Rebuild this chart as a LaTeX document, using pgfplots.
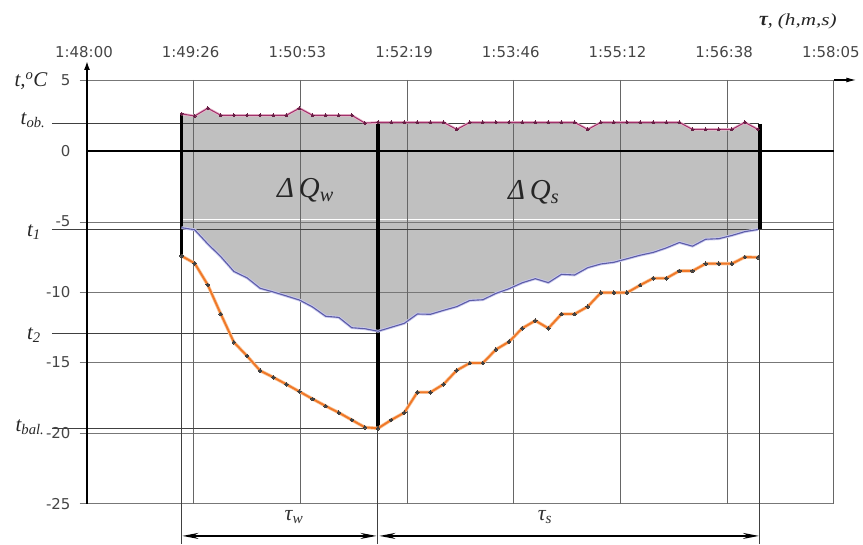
\documentclass[border=0pt]{standalone}
\usepackage{fontspec}
\setmainfont{DejaVu Sans}
\newfontfamily\tnr{Liberation Serif}
\usepackage{pgfplots}
\usepackage{pgfplotstable}
\pgfplotsset{compat=1.18}
\usepgfplotslibrary{fillbetween}
\usetikzlibrary{arrows.meta}
\definecolor{gridc}{HTML}{777777}
\definecolor{fillc}{HTML}{C0C0C0}
\definecolor{pinkc}{HTML}{A0306A}
\definecolor{pinkl}{HTML}{E8B8CC}
\definecolor{orangec}{HTML}{F07828}
\definecolor{orangel}{HTML}{F8C8A0}
\definecolor{bluec}{HTML}{5C5CA8}
\definecolor{bluel}{HTML}{CACAEE}
\definecolor{tickc}{HTML}{454545}
\pgfplotstableread{
x pink blue orange
0.886 2.6 -5.45 -7.45
1.009 2.45 -5.6 -7.97
1.132 3.0 -6.6 -9.5
1.254 2.5 -7.5 -11.56
1.377 2.5 -8.55 -13.56
1.500 2.5 -9.0 -14.53
1.623 2.5 -9.74 -15.57
1.746 2.5 -10.0 -16.04
1.868 2.5 -10.28 -16.53
1.991 3.0 -10.57 -17.05
2.114 2.5 -11.06 -17.57
2.237 2.5 -11.72 -18.07
2.360 2.5 -11.8 -18.54
2.482 2.5 -12.53 -19.06
2.605 1.95 -12.6 -19.58
2.728 2.0 -12.78 -19.65
2.851 2.0 -12.5 -19.06
2.974 2.0 -12.22 -18.54
3.096 2.0 -11.56 -17.1
3.219 2.0 -11.58 -17.1
3.342 2.0 -11.3 -16.53
3.465 1.5 -11.04 -15.55
3.588 2.0 -10.6 -15.03
3.710 2.0 -10.55 -15.03
3.833 2.0 -10.1 -14.07
3.956 2.0 -9.77 -13.52
4.079 2.0 -9.35 -12.57
4.202 2.0 -9.06 -12.03
4.324 2.0 -9.34 -12.57
4.447 2.0 -8.75 -11.56
4.570 2.0 -8.8 -11.56
4.693 1.5 -8.28 -11.04
4.816 2.0 -8.02 -10.05
4.938 2.0 -7.9 -10.05
5.061 2.0 -7.65 -10.05
5.184 2.0 -7.4 -9.52
5.307 2.0 -7.2 -9.03
5.430 2.0 -6.88 -9.03
5.552 2.0 -6.5 -8.51
5.675 1.5 -6.76 -8.51
5.798 1.5 -6.27 -8.0
5.921 1.5 -6.23 -8.0
6.044 1.5 -6.0 -8.0
6.166 2.0 -5.73 -7.53
6.289 1.5 -5.58 -7.55
}\datatab
\begin{document}
\begin{tikzpicture}
\begin{axis}[at={(87bp,-504bp)}, anchor=south west, scale only axis,
  width=747bp, height=424bp, xmin=0, xmax=7, ymin=-25, ymax=5,
  axis line style={draw=none}, major tick length=0, clip=false,
  xtick={0,...,7},
  xticklabels={1:48:00,1:49:26,1:50:53,1:52:19,1:53:46,1:55:12,1:56:38,1:58:05},
  xticklabel pos=right,
  ytick={-25,-20,-15,-10,-5,0,5},
  yticklabels={-25,-20,-15,-10,-5,0,5},
  ticklabel style={font=\fontsize{15}{16}\selectfont, text=tickc},
  xticklabel style={yshift=19bp, xshift=-3bp},
  yticklabel style={xshift=-13bp},
]
% fill
\addplot[draw=none, forget plot, name path=P] table[x=x,y=pink]{\datatab};
\addplot[draw=none, forget plot, name path=B] table[x=x,y=blue]{\datatab};
\addplot[fillc, forget plot] fill between[of=P and B];
% grid
\draw[gridc, line width=0.9bp] (axis cs:-0.07,5) -- (axis cs:7,5);
\draw[gridc, line width=0.9bp] (axis cs:-0.07,-5.05) -- (axis cs:7,-5.05);
\draw[gridc, line width=0.9bp] (axis cs:-0.07,-10) -- (axis cs:7,-10);
\draw[gridc, line width=0.9bp] (axis cs:-0.07,-15) -- (axis cs:7,-15);
\draw[gridc, line width=0.9bp] (axis cs:-0.07,-20) -- (axis cs:7,-20);
\draw[gridc, line width=0.9bp] (axis cs:-0.07,-25) -- (axis cs:7,-25);
\draw[white, line width=1bp] (axis cs:0.886,-4.9) -- (axis cs:6.3,-4.9);
\draw[black!60, line width=0.9bp] (axis cs:1,5) -- (axis cs:1,-25);
\draw[black!60, line width=0.9bp] (axis cs:2,5) -- (axis cs:2,-25);
\draw[black!60, line width=0.9bp] (axis cs:3,5) -- (axis cs:3,-25);
\draw[black!60, line width=0.9bp] (axis cs:4,5) -- (axis cs:4,-25);
\draw[black!60, line width=0.9bp] (axis cs:5,5) -- (axis cs:5,-25);
\draw[black!60, line width=0.9bp] (axis cs:6,5) -- (axis cs:6,-25);
\draw[black!60, line width=0.9bp] (axis cs:7,5) -- (axis cs:7,-25);
% guide lines
\draw[black!75, line width=1bp] (axis cs:-0.328,1.92) -- (axis cs:6.3,1.92);
\draw[black!75, line width=1bp] (axis cs:-0.328,-5.55) -- (axis cs:7,-5.55);
\draw[black!75, line width=1bp] (axis cs:-0.328,-12.97) -- (axis cs:2.727,-12.97);
\draw[black!75, line width=1bp] (axis cs:-0.328,-19.65) -- (axis cs:2.727,-19.65);
% zero line, axes
\draw[black, line width=2bp] (axis cs:0,0) -- (axis cs:7,0);
\draw[black, line width=2bp, -{Latex[length=9bp,width=6bp]}] (axis cs:0,-25) -- (axis cs:0,6.35);
\draw[black, line width=1.2bp, -{Latex[length=10bp,width=5bp]}] (axis cs:7,5) -- (axis cs:7.21,5);
% thick verticals
\draw[black, line width=3.6bp] (axis cs:0.886,2.6) -- (axis cs:0.886,-7.45);
\draw[black, line width=3.6bp] (axis cs:2.727,2.1) -- (axis cs:2.727,-19.65);
\draw[black, line width=3.6bp] (axis cs:6.307,1.9) -- (axis cs:6.307,-5.55);
% curves
\addplot[bluel, line width=2.8bp, no marks, forget plot] table[x=x,y=blue]{\datatab};
\addplot[bluec, line width=1.1bp, no marks] table[x=x,y=blue]{\datatab};
\addplot[orangel, line width=3.4bp, no marks, forget plot] table[x=x,y=orange]{\datatab};
\addplot[orangec, line width=1.9bp, mark=*, mark size=1.8bp, mark options={fill=black!75, draw=black!75, line width=0pt}] table[x=x,y=orange]{\datatab};
\addplot[pinkl, line width=2.6bp, no marks, forget plot] table[x=x,y=pink]{\datatab};
\addplot[pinkc, line width=1bp, mark=*, mark size=1.5bp, mark options={fill=pinkc!65!black, draw=pinkc!65!black, line width=0pt}] table[x=x,y=pink]{\datatab};
\end{axis}
\begin{scope}[x=1bp,y=1bp]
\path (0,0) rectangle (863,-544);
% thin verticals to bottom
\draw[black!75, line width=1bp] (181.5,-255) -- (181.5,-544);
\draw[black!75, line width=1bp] (378,-428) -- (378,-544);
\draw[black!75, line width=1bp] (760,-229) -- (760,-544);
% dimension arrows
\draw[black, line width=1.2bp, {Stealth[length=16bp,width=6bp]}-{Stealth[length=16bp,width=6bp]}] (182.5,-536) -- (376.5,-536);
\draw[black, line width=1.2bp, {Stealth[length=16bp,width=6bp]}-{Stealth[length=16bp,width=6bp]}] (379.5,-536) -- (759,-536);
% labels
\node[font=\tnr\itshape\fontsize{22}{22}\selectfont, text=black!80] at (294,-517) {τ\textsubscript{w}};
\node[font=\tnr\itshape\fontsize{22}{22}\selectfont, text=black!80] at (545,-517) {τ\textsubscript{s}};
\node[font=\tnr\itshape\fontsize{29}{29}\selectfont, text=black!85, anchor=base west, inner sep=0] at (277,-198) {Δ\,Q\textsubscript{w}};
\node[font=\tnr\itshape\fontsize{29}{29}\selectfont, text=black!85, anchor=base west, inner sep=0] at (508,-200) {Δ\,Q\textsubscript{s}};
\node[font=\tnr\itshape\fontsize{21}{21}\selectfont, text=black!85] at (31,-81) {t,\textsuperscript{o}C};
\node[font=\tnr\itshape\fontsize{21}{21}\selectfont, text=black!85] at (33,-120) {t\textsubscript{ob.}};
\node[font=\tnr\itshape\fontsize{21}{21}\selectfont, text=black!85] at (34,-232) {t\textsubscript{1}};
\node[font=\tnr\itshape\fontsize{21}{21}\selectfont, text=black!85] at (34,-335) {t\textsubscript{2}};
\node[font=\tnr\itshape\fontsize{21}{21}\selectfont, text=black!85] at (30,-427) {t\textsubscript{bal.}};
\node[font=\tnr\itshape\fontsize{20}{20}\selectfont, text=black!85, anchor=base east, inner sep=0] at (837,-26) {\textbf{τ}, \scalebox{1.25}[1]{\fontsize{17}{17}\selectfont(h,m,s)}};
\end{scope}
\end{tikzpicture}
\end{document}
